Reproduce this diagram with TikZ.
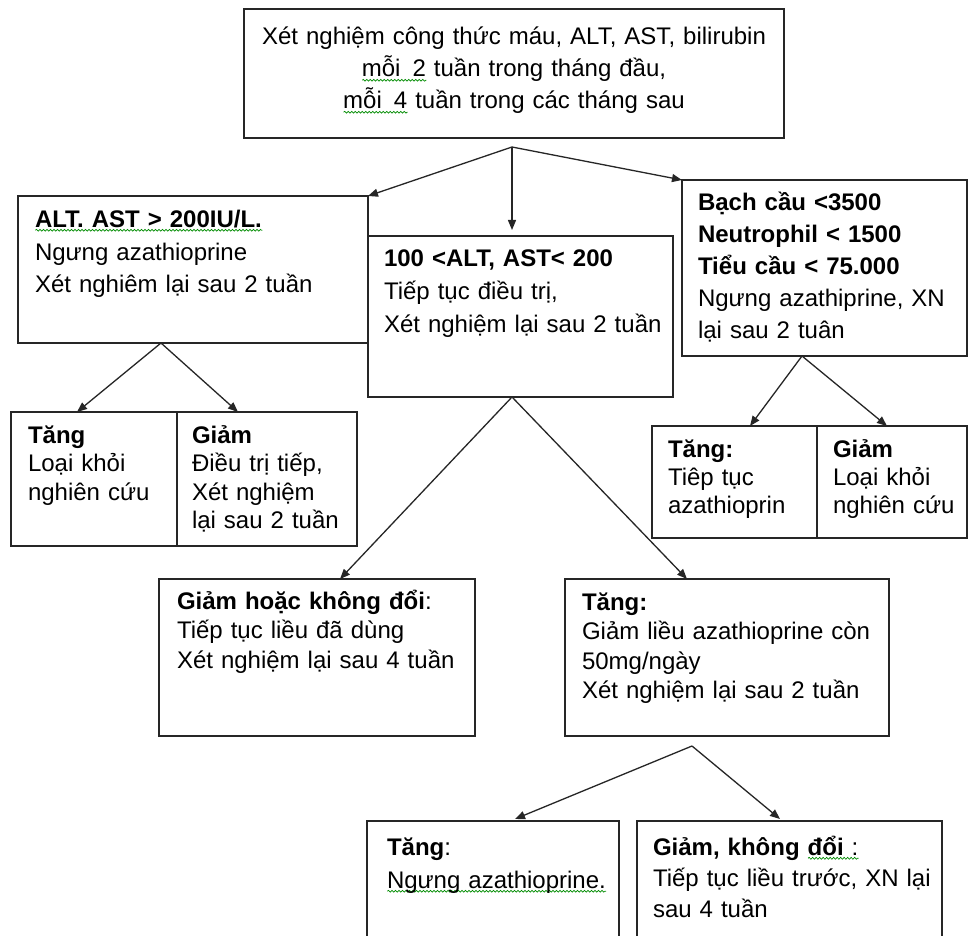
\documentclass[tikz,border=0pt]{standalone}
\usepackage{fontspec}
\setmainfont{Liberation Sans}
\usetikzlibrary{arrows.meta,decorations.pathmorphing}

% fixed line pitch inside the boxes
\lineskiplimit=-100pt
\lineskip=0pt

% wavy underline under a piece of text
\newsavebox\sqbox
\newlength\sqlen
\newcommand\squig[1]{\sbox\sqbox{#1}\setlength\sqlen{\wd\sqbox}\leavevmode\rlap{\raisebox{-4.5pt}[0pt][0pt]{\tikz\draw[sqline] (0pt,0pt) -- (\the\sqlen,0pt);}}\usebox\sqbox}

\tikzset{
  box/.style={draw=black!85, line width=1.6pt, inner sep=0pt, outer sep=0pt, anchor=north west},
  txt/.style={anchor=base west, inner sep=0pt, outer sep=0pt, text width=330pt, align=left,
    font=\fontsize{24}{33}\selectfont},
  ls/.style={font=\fontsize{24}{#1}\selectfont},
  arr/.style={draw=black!85, line width=1.3pt, -{Triangle[length=10pt,width=8pt]}},
  sqline/.style={draw=green!55!black, line width=0.7pt, decorate,
    decoration={snake, amplitude=0.9pt, segment length=3.5pt}}
}

\begin{document}
\begin{tikzpicture}[x=1pt,y=-1pt]
\fill[white] (0,0) rectangle (969,936);
\useasboundingbox (0,0) rectangle (969,936);
\clip (0,0) rectangle (969,936);

% boxes
\node[box, minimum width=540, minimum height=129] (T) at (244,9) {};
\node[box, minimum width=350, minimum height=147] (A) at (18,196) {};
\node[box, minimum width=305, minimum height=161] (B) at (368,236) {};
\node[box, minimum width=285, minimum height=176] (C) at (682,180) {};
\node[box, minimum width=166, minimum height=134] (L1) at (11,412) {};
\node[box, minimum width=180, minimum height=134] (L2) at (177,412) {};
\node[box, minimum width=165, minimum height=112] (R1) at (652,426) {};
\node[box, minimum width=150, minimum height=112] (R2) at (817,426) {};
\node[box, minimum width=316, minimum height=157] (D) at (159,579) {};
\node[box, minimum width=324, minimum height=157] (E) at (565,579) {};
\node[box, minimum width=252, minimum height=130] (F) at (367,821) {};
\node[box, minimum width=305, minimum height=130] (G) at (637,821) {};

% texts
\node[txt, anchor=base, text width=540, align=center, ls=32] (Tt) at ([shift={(0,36)}]T.north)
  {Xét nghiệm công thức máu, ALT, AST, bilirubin\\
   \squig{mỗi\hspace{.5em}2} tuần trong tháng đầu,\\
   \squig{mỗi\hspace{.5em}4} tuần trong các tháng sau};
\node[txt] (At) at ([shift={(17,31)}]A.north west)
  {\squig{\textbf{ALT. AST > 200IU/L.}}\\ Ngưng azathioprine\\ Xét nghiêm lại sau 2 tuần};
\node[txt] (Bt) at ([shift={(16,30)}]B.north west)
  {\textbf{100 <ALT, AST< 200}\\ Tiếp tục điều trị,\\ Xét nghiệm lại sau 2 tuần};
\node[txt, ls=32] (Ct) at ([shift={(16,31)}]C.north west)
  {\textbf{Bạch cầu <3500}\\ \textbf{Neutrophil < 1500}\\ \textbf{Tiểu cầu < 75.000}\\
   Ngưng azathiprine, XN\\ lại sau 2 tuân};
\node[txt, ls=28.5] (L1t) at ([shift={(17,31)}]L1.north west)
  {\textbf{Tăng}\\ Loại khỏi\\ nghiên cứu};
\node[txt, ls=28.5] (L2t) at ([shift={(15,31)}]L2.north west)
  {\textbf{Giảm}\\ Điều trị tiếp,\\ Xét nghiệm\\ lại sau 2 tuần};
\node[txt, ls=28] (R1t) at ([shift={(16,31)}]R1.north west)
  {\textbf{Tăng:}\\ Tiêp tục\\ azathioprin};
\node[txt, ls=28] (R2t) at ([shift={(16,31)}]R2.north west)
  {\textbf{Giảm}\\ Loại khỏi\\ nghiên cứu};
\node[txt, ls=29.5] (Dt) at ([shift={(18,30)}]D.north west)
  {\textbf{Giảm hoặc không đổi}:\\ Tiếp tục liều đã dùng\\ Xét nghiệm lại sau 4 tuần};
\node[txt, ls=29.5] (Et) at ([shift={(17,31)}]E.north west)
  {\textbf{Tăng:}\\ Giảm liều azathioprine còn\\ 50mg/ngày\\ Xét nghiệm lại sau 2 tuần};
\node[txt, ls=33] (Ft) at ([shift={(20,34)}]F.north west)
  {\textbf{Tăng}:\\ \squig{Ngưng azathioprine.}};
\node[txt, ls=31] (Gt) at ([shift={(16,34)}]G.north west)
  {\textbf{Giảm, không} \squig{\textbf{đổi} :}\\ Tiếp tục liều trước, XN lại\\ sau 4 tuần};

% branching points
\coordinate (j0) at ([shift={(-2,9)}]T.south);
\coordinate (jA) at ([shift={(143,0)}]A.south west);
\coordinate (jB) at ([shift={(144,0)}]B.south west);
\coordinate (jC) at ([shift={(120,0)}]C.south west);
\coordinate (jE) at ([shift={(127,10)}]E.south west);

% connectors
\draw[arr] (j0) -- (A.north east);
\draw[arr] (j0) -- ([shift={(144,-6)}]B.north west);
\draw[arr] (j0) -- (C.north west);

\draw[arr] (jA) -- ([shift={(66,0)}]L1.north west);
\draw[arr] (jA) -- ([shift={(61,0)}]L2.north west);

\draw[arr] (jB) -- ([shift={(181,0)}]D.north west);
\draw[arr] (jB) -- ([shift={(122,0)}]E.north west);

\draw[arr] (jC) -- ([shift={(98,0)}]R1.north west);
\draw[arr] (jC) -- ([shift={(70,0)}]R2.north west);

\draw[arr] (jE) -- ([shift={(148,-2)}]F.north west);
\draw[arr] (jE) -- ([shift={(143,-2)}]G.north west);
\end{tikzpicture}
\end{document}
